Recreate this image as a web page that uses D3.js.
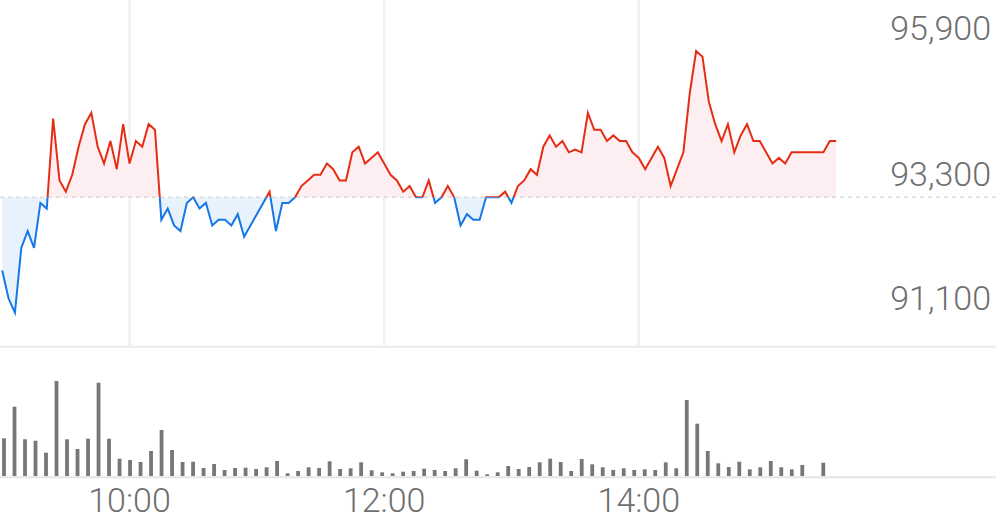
<!DOCTYPE html>
<html><head><meta charset="utf-8">
<script src="https://cdn.jsdelivr.net/npm/d3@7"></script>
<style>html,body{margin:0;padding:0;background:#fff;overflow:hidden} svg{display:block}</style>
</head><body><svg id="c" width="996" height="519"></svg>
<script>
// ---------- data ----------
const prevClose = 93300;
const sessionStart = "09:00";
const priceStepMinutes = 3;
const prices = [
  92000, 91500, 91250, 92400, 92700, 92400, 93200, 93100, 94700, 93600,
  93400, 93700, 94200, 94600, 94800, 94200, 93900, 94300, 93800, 94600,
  93900, 94300, 94200, 94600, 94500, 92900, 93100, 92800, 92700, 93200,
  93300, 93100, 93200, 92800, 92900, 92900, 92800, 93000, 92600, 92800,
  93000, 93200, 93400, 92700, 93200, 93200, 93300, 93500, 93600, 93700,
  93700, 93900, 93800, 93600, 93600, 94100, 94200, 93900, 94000, 94100,
  93900, 93700, 93600, 93400, 93500, 93300, 93300, 93600, 93200, 93300,
  93500, 93300, 92800, 93000, 92900, 92900, 93300, 93300, 93300, 93400,
  93200, 93500, 93600, 93800, 93700, 94200, 94400, 94200, 94300, 94100,
  94150, 94100, 94800, 94500, 94500, 94300, 94400, 94300, 94300, 94100,
  94000, 93800, 94000, 94200, 94000, 93500, 93800, 94100, 95150, 95900,
  95800, 95000, 94600, 94300, 94600, 94100, 94400, 94600, 94300, 94300,
  94100, 93900, 94000, 93900, 94100, 94100, 94100, 94100, 94100, 94100,
  94300, 94300
];
const volumeStepMinutes = 5;
const volumes = [
  377, 693, 367, 353, 233, 950, 367, 270, 373, 933,
  373, 173, 160, 140, 250, 460, 260, 140, 143, 80,
  120, 60, 80, 83, 70, 87, 150, 27, 50, 87,
  80, 147, 70, 77, 137, 57, 37, 27, 43, 50,
  73, 60, 50, 77, 167, 53, 17, 37, 100, 70,
  90, 137, 173, 140, 50, 170, 117, 87, 60, 77,
  60, 67, 60, 137, 77, 760, 523, 250, 127, 90,
  143, 67, 87, 150, 87, 67, 110, 0, 133
];
const xTickMinutes = [60, 180, 300];
const xTickLabels = ["10:00", "12:00", "14:00"];
const yLabelValues = [95900, 93300, 91100];

// ---------- derived categories ----------
const fmtTime = m => {
  const [h0, m0] = sessionStart.split(":").map(Number);
  const t = h0 * 60 + m0 + m;
  return String(Math.floor(t / 60)).padStart(2, "0") + ":" + String(t % 60).padStart(2, "0");
};
const priceData = prices.map((p, i) => ({ m: i * priceStepMinutes, p }));
const volData = volumes.map((v, k) => ({ slot: fmtTime(k * volumeStepMinutes), v }));

// ---------- layout ----------
const W = 996, H = 519;
const priceBottom = 346.7;
const volBase = 476;
const svg = d3.select("#c");

const x = d3.scaleLinear().domain([0, 390]).range([2.2, 829.8]);
const y = d3.scaleLinear().domain([91100, 95900]).range([321.05, 51.05]);
const xv = d3.scalePoint().domain(volData.map(d => d.slot)).range([4, 823.3]);
const yv = d3.scaleLinear().domain([0, 1000]).range([volBase, volBase - 100]);

const RED = "#e62d14", BLUE = "#1677e6";
const yPrev = y(prevClose);

const defs = svg.append("defs");
defs.append("clipPath").attr("id", "up").append("rect")
  .attr("x", 0).attr("y", 0).attr("width", W).attr("height", yPrev);
defs.append("clipPath").attr("id", "down").append("rect")
  .attr("x", 0).attr("y", yPrev).attr("width", W).attr("height", priceBottom - yPrev);

// grid lines
svg.append("g").selectAll("line").data(xTickMinutes).join("line")
  .attr("x1", d => x(d)).attr("x2", d => x(d))
  .attr("y1", 0).attr("y2", priceBottom)
  .attr("stroke", "#f1f1f1").attr("stroke-width", 2.5);

// separator
svg.append("line").attr("x1", 0).attr("x2", W).attr("y1", priceBottom).attr("y2", priceBottom)
  .attr("stroke", "#eeeeee").attr("stroke-width", 2.5);

// areas
const area = d3.area().x(d => x(d.m)).y0(yPrev).y1(d => y(d.p));
svg.append("path").datum(priceData).attr("d", area).attr("fill", "#fdeff1").attr("clip-path", "url(#up)");
svg.append("path").datum(priceData).attr("d", area).attr("fill", "#e8f2fd").attr("clip-path", "url(#down)");

// previous close dashed line
svg.append("line").attr("x1", 0).attr("x2", W).attr("y1", yPrev).attr("y2", yPrev)
  .attr("stroke", "#d9d9d9").attr("stroke-width", 1.6).attr("stroke-dasharray", "4,4");

// lines
const line = d3.line().x(d => x(d.m)).y(d => y(d.p));
svg.append("path").datum(priceData).attr("d", line).attr("fill", "none")
  .attr("stroke", RED).attr("stroke-width", 2).attr("stroke-linejoin", "miter").attr("clip-path", "url(#up)");
svg.append("path").datum(priceData).attr("d", line).attr("fill", "none")
  .attr("stroke", BLUE).attr("stroke-width", 2).attr("stroke-linejoin", "miter").attr("clip-path", "url(#down)");

// y labels
svg.append("g").selectAll("text").data(yLabelValues).join("text")
  .attr("x", 991).attr("y", d => y(d) - 11.3)
  .attr("text-anchor", "end")
  .attr("font-family", "Roboto, sans-serif").attr("font-size", 34).attr("font-weight", 300)
  .attr("fill", "#6f6f6f")
  .text(d => d3.format(",")(d));

// volume bars
const bw = 3.8;
svg.append("g").selectAll("rect").data(volData).join("rect")
  .attr("x", d => xv(d.slot) - bw / 2).attr("width", bw)
  .attr("y", d => yv(d.v)).attr("height", d => volBase - yv(d.v))
  .attr("fill", "#777777");

// volume axis line
svg.append("line").attr("x1", 0).attr("x2", W).attr("y1", volBase + 1.2).attr("y2", volBase + 1.2)
  .attr("stroke", "#e6e6e6").attr("stroke-width", 2);

// x labels
svg.append("g").selectAll("text").data(xTickMinutes).join("text")
  .attr("x", d => x(d)).attr("y", 512)
  .attr("text-anchor", "middle")
  .attr("font-family", "Roboto, sans-serif").attr("font-size", 34).attr("font-weight", 300)
  .attr("fill", "#6f6f6f")
  .text((d, i) => xTickLabels[i]);
</script>
</body></html>
